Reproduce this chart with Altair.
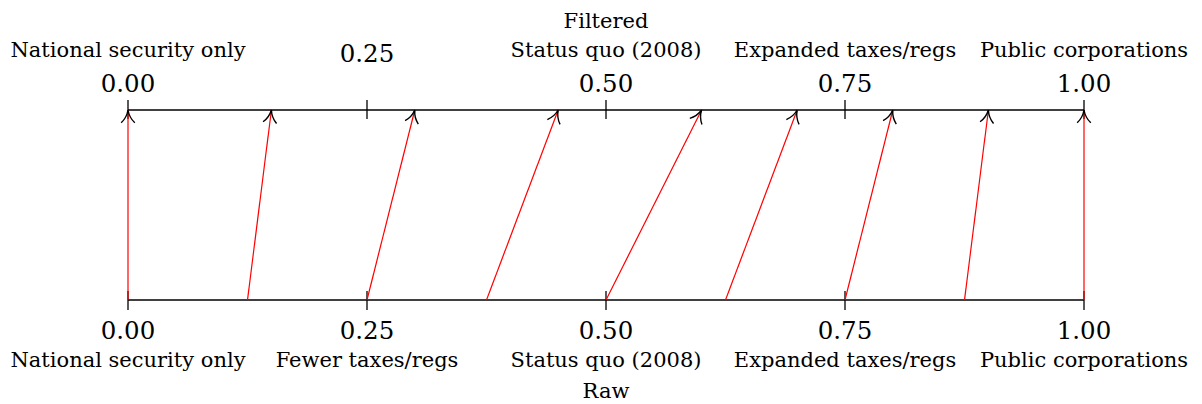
import altair as alt
import pandas as pd

# ---- data ----
raw_values = [0.0, 0.125, 0.25, 0.375, 0.5, 0.625, 0.75, 0.875, 1.0]
filtered_values = [0.0, 0.15, 0.30, 0.45, 0.60, 0.70, 0.80, 0.90, 1.0]
tick_values = [0.0, 0.25, 0.5, 0.75, 1.0]
tick_labels = ["0.00", "0.25", "0.50", "0.75", "1.00"]
raw_categories = ["National security only", "Fewer taxes/regs", "Status quo (2008)",
                  "Expanded taxes/regs", "Public corporations"]
filtered_categories = ["National security only", "", "Status quo (2008)",
                       "Expanded taxes/regs", "Public corporations"]
raw_title = "Raw"
filtered_title = "Filtered"

W, H = 956, 190
FONT = "'DejaVu Serif', serif"
xs = alt.Scale(domain=[0, 1])
ys = alt.Scale(domain=[0, 1])

arrows = pd.DataFrame({"raw": raw_values, "filtered": filtered_values,
                       "lo": [0] * len(raw_values), "hi": [1] * len(raw_values)})
ticks = pd.DataFrame({"tick": tick_values, "label": tick_labels,
                      "rawcat": raw_categories, "filtcat": filtered_categories})
axes = pd.DataFrame({"start": [min(tick_values)] * 2, "end": [max(tick_values)] * 2,
                     "level": [0, 1]})
titles = pd.DataFrame({"pos": [0.5], "raw": [raw_title], "filt": [filtered_title]})

axis_lines = alt.Chart(axes).mark_rule(color="black", strokeWidth=1.3).encode(
    x=alt.X("start:Q", scale=xs, axis=None), x2="end:Q",
    y=alt.Y("level:Q", scale=ys, axis=None))

base_t = alt.Chart(ticks)
top_ticks = base_t.mark_rule(color="black", strokeWidth=1.3).encode(
    x=alt.X("tick:Q", scale=xs, axis=None), y=alt.value(-10), y2=alt.value(9))
bot_ticks = base_t.mark_rule(color="black", strokeWidth=1.3).encode(
    x=alt.X("tick:Q", scale=xs, axis=None), y=alt.value(H - 9), y2=alt.value(H + 10))

red = alt.Chart(arrows).mark_rule(color="#ff0000", strokeWidth=1.2).encode(
    x=alt.X("raw:Q", scale=xs, axis=None), x2="filtered:Q",
    y=alt.Y("lo:Q", scale=ys, axis=None), y2="hi:Q")

head_path = "M-0.8,1.5 Q-0.15,0.9 0,0 Q0.15,0.9 0.8,1.5"
heads = alt.Chart(arrows).transform_calculate(
    ang=f"(atan2((datum.filtered - datum.raw) * {W}, {H}) * 180 / PI + 360) % 360"
).mark_point(shape=head_path, filled=False, stroke="black", strokeWidth=1.4,
             size=289, opacity=1).encode(
    x=alt.X("filtered:Q", scale=xs, axis=None),
    y=alt.Y("hi:Q", scale=ys, axis=None),
    angle=alt.Angle("ang:Q", scale=None))

txt = dict(font=FONT, baseline="alphabetic", align="center", color="black")
NUM, CAT = 24.5, 21

top_nums = base_t.transform_filter("datum.filtcat != ''").mark_text(fontSize=NUM, **txt).encode(
    x=alt.X("tick:Q", scale=xs, axis=None), y=alt.value(-18), text="label:N")
top_nums_hi = base_t.transform_filter("datum.filtcat == ''").mark_text(fontSize=NUM, **txt).encode(
    x=alt.X("tick:Q", scale=xs, axis=None), y=alt.value(-48), text="label:N")
top_cats = base_t.mark_text(fontSize=CAT, **txt).encode(
    x=alt.X("tick:Q", scale=xs, axis=None), y=alt.value(-53), text="filtcat:N")
bot_nums = base_t.mark_text(fontSize=NUM, **txt).encode(
    x=alt.X("tick:Q", scale=xs, axis=None), y=alt.value(H + 39), text="label:N")
bot_cats = base_t.mark_text(fontSize=CAT, **txt).encode(
    x=alt.X("tick:Q", scale=xs, axis=None), y=alt.value(H + 67), text="rawcat:N")

t_base = alt.Chart(titles)
top_title = t_base.mark_text(fontSize=CAT, **txt).encode(
    x=alt.X("pos:Q", scale=xs, axis=None), y=alt.value(-82), text="filt:N")
bot_title = t_base.mark_text(fontSize=CAT, **txt).encode(
    x=alt.X("pos:Q", scale=xs, axis=None), y=alt.value(H + 98), text="raw:N")

chart = alt.layer(
    axis_lines, top_ticks, bot_ticks, red, heads,
    top_nums, top_nums_hi, top_cats, bot_nums, bot_cats, top_title, bot_title
).properties(
    width=W, height=H,
    autosize=alt.AutoSizeParams(type="none"),
    padding={"left": 120, "top": 102, "right": 110, "bottom": 104},
    background="white",
).configure_view(stroke=None)

chart.save("out.html", embed_options={"renderer": "svg", "actions": False})
